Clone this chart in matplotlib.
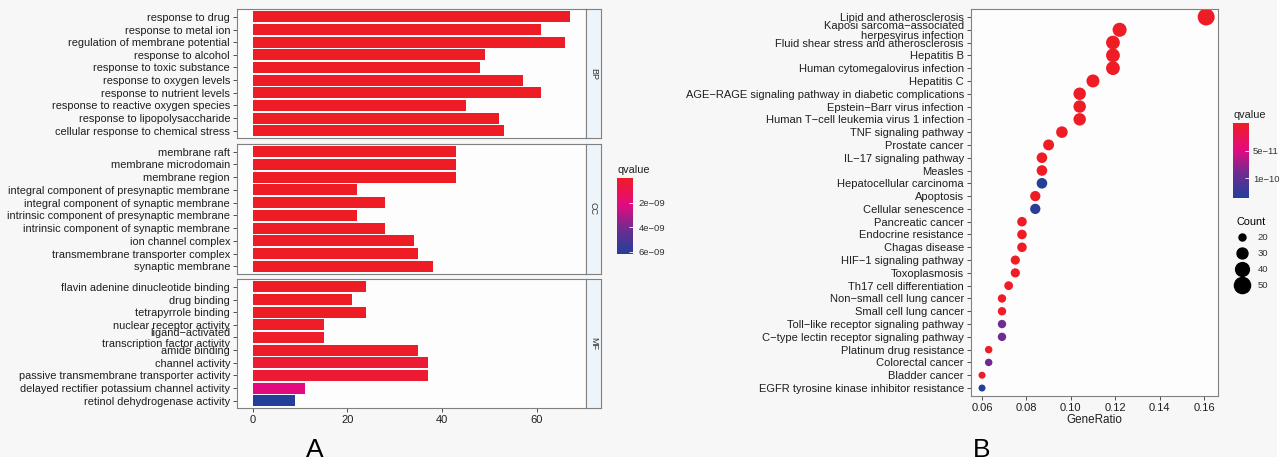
import numpy as np
import matplotlib.pyplot as plt
from matplotlib.colors import LinearSegmentedColormap, Normalize
from matplotlib.cm import ScalarMappable
from matplotlib.lines import Line2D
from matplotlib.patches import Rectangle

plt.rcParams['font.family'] = ['Liberation Sans', 'DejaVu Sans']

# --- GO enrichment (panel A) ---
bp_terms = ['response to drug', 'response to metal ion', 'regulation of membrane potential',
            'response to alcohol', 'response to toxic substance', 'response to oxygen levels',
            'response to nutrient levels', 'response to reactive oxygen species',
            'response to lipopolysaccharide', 'cellular response to chemical stress']
bp_counts = [67, 61, 66, 49, 48, 57, 61, 45, 52, 53]
bp_q = [1e-14, 1e-13, 1e-14, 1e-12, 1e-12, 1e-13, 1e-13, 1e-12, 1e-12, 1e-12]

cc_terms = ['membrane raft', 'membrane microdomain', 'membrane region',
            'integral component of presynaptic membrane', 'integral component of synaptic membrane',
            'intrinsic component of presynaptic membrane', 'intrinsic component of synaptic membrane',
            'ion channel complex', 'transmembrane transporter complex', 'synaptic membrane']
cc_counts = [43, 43, 43, 22, 28, 22, 28, 34, 35, 38]
cc_q = [1e-12, 1e-12, 1e-12, 1e-11, 1e-11, 1e-11, 1e-11, 1e-11, 1e-11, 1e-11]

mf_terms = ['flavin adenine dinucleotide binding', 'drug binding', 'tetrapyrrole binding',
            'nuclear receptor activity', 'ligand\u2212activated\ntranscription factor activity',
            'amide binding', 'channel activity', 'passive transmembrane transporter activity',
            'delayed rectifier potassium channel activity', 'retinol dehydrogenase activity']
mf_counts = [24, 21, 24, 15, 15, 35, 37, 37, 11, 9]
mf_q = [1e-11, 1e-11, 1e-11, 5e-11, 5e-11, 1e-10, 3.5e-10, 3.5e-10, 2.2e-9, 6.19e-9]

# --- KEGG enrichment (panel B) ---
kegg_terms = ['Lipid and atherosclerosis', 'Kaposi sarcoma\u2212associated\nherpesvirus infection',
              'Fluid shear stress and atherosclerosis', 'Hepatitis B',
              'Human cytomegalovirus infection', 'Hepatitis C',
              'AGE\u2212RAGE signaling pathway in diabetic complications',
              'Epstein\u2212Barr virus infection', 'Human T\u2212cell leukemia virus 1 infection',
              'TNF signaling pathway', 'Prostate cancer', 'IL\u221217 signaling pathway', 'Measles',
              'Hepatocellular carcinoma', 'Apoptosis', 'Cellular senescence', 'Pancreatic cancer',
              'Endocrine resistance', 'Chagas disease', 'HIF\u22121 signaling pathway',
              'Toxoplasmosis', 'Th17 cell differentiation', 'Non\u2212small cell lung cancer',
              'Small cell lung cancer', 'Toll\u2212like receptor signaling pathway',
              'C\u2212type lectin receptor signaling pathway', 'Platinum drug resistance',
              'Colorectal cancer', 'Bladder cancer', 'EGFR tyrosine kinase inhibitor resistance']
kegg_ratio = [0.161, 0.122, 0.119, 0.119, 0.119, 0.110, 0.104, 0.104, 0.104, 0.096,
              0.090, 0.087, 0.087, 0.087, 0.084, 0.084, 0.078, 0.078, 0.078, 0.075,
              0.075, 0.072, 0.069, 0.069, 0.069, 0.069, 0.063, 0.063, 0.060, 0.060]
kegg_count = [54, 41, 40, 40, 40, 37, 35, 35, 35, 32, 30, 29, 29, 29, 28, 28, 26, 26, 26, 25,
              25, 24, 23, 23, 23, 23, 21, 21, 20, 20]
kegg_q = [1e-20, 1e-16, 1e-15, 1e-15, 1e-15, 1e-14, 1e-14, 1e-14, 1e-14, 1e-13,
          1e-13, 1e-13, 1e-13, 1.35e-10, 1e-13, 1.3e-10, 1e-13, 1e-13, 1e-13, 1e-12,
          1e-12, 1e-12, 1e-12, 1e-12, 9e-11, 9e-11, 1e-12, 9e-11, 1e-12, 1.35e-10]

W, H = 1288, 463
cmap = LinearSegmentedColormap.from_list(
    'q', [(0, '#EE1D25'), (0.35, '#E40A80'), (0.68, '#6B2D91'), (1, '#233F99')])
txt_col = '#1f1f1f'
spine_col = '#808080'


def rect(x0, y0, x1, y1):
    # pixel box (top-left origin) -> figure fraction
    return [x0 / W, 1 - y1 / H, (x1 - x0) / W, (y1 - y0) / H]


def style_spines(ax):
    for s in ax.spines.values():
        s.set_color(spine_col)
        s.set_linewidth(0.8)


fig = plt.figure(figsize=(W / 100, H / 100), dpi=100)
fig.patch.set_facecolor('white')
fig.add_artist(Rectangle((0, 1 - 457 / H), 1277 / W, 457 / H, transform=fig.transFigure,
                         facecolor='#f7f7f7', edgecolor='none', zorder=-10))

# ---------- panel A ----------
norm_go = Normalize(0, 6.19e-9)
facets = [('BP', bp_terms, bp_counts, bp_q, 9.3, 138.3),
          ('CC', cc_terms, cc_counts, cc_q, 144, 274),
          ('MF', mf_terms, mf_counts, mf_q, 279.3, 408.3)]
for i, (name, terms, counts, qv, top, bot) in enumerate(facets):
    ax = fig.add_axes(rect(237, top, 585.7, bot))
    ax.set_facecolor('#fdfdfd')
    y = np.arange(len(terms))
    ax.barh(y, counts, height=0.88, color=cmap(norm_go(np.array(qv))))
    ax.set_xlim(-3.35, 70.35)
    ax.set_ylim(len(terms) - 0.4, -0.6)
    ax.set_yticks(y)
    ax.set_yticklabels(terms, fontsize=7.95, color=txt_col, linespacing=1.05)
    ax.set_xticks([0, 20, 40, 60])
    ax.tick_params(axis='y', length=3, width=0.6, color='#333333', pad=2)
    ax.tick_params(axis='x', length=3, width=0.6, color='#333333', labelsize=8,
                   labelcolor=txt_col, pad=1.5)
    if i < 2:
        ax.tick_params(axis='x', length=0, labelbottom=False)
    style_spines(ax)

    sx = fig.add_axes(rect(585.7, top, 601, bot))
    sx.set_facecolor('#eef5fa')
    sx.set_xticks([])
    sx.set_yticks([])
    style_spines(sx)
    sx.text(0.5, 0.5, name, rotation=-90, ha='center', va='center', fontsize=6.5,
            color='#333333', transform=sx.transAxes)

cax = fig.add_axes(rect(617, 178, 633, 254))
cb = fig.colorbar(ScalarMappable(norm_go, cmap), cax=cax)
cb.outline.set_visible(False)
cax.invert_yaxis()
cb.set_ticks([2e-9, 4e-9, 6e-9])
cb.set_ticklabels(['2e\u221209', '4e\u221209', '6e\u221209'])
cax.tick_params(length=3, width=0.6, color='white', direction='in', labelsize=6.8,
                labelcolor='#333333', pad=4)
fig.text(617 / W, 1 - 170 / H, 'qvalue', fontsize=7.8, ha='left', va='center', color=txt_col)

# ---------- panel B ----------
norm_kegg = Normalize(0, 1.35e-10)
counts = np.array(kegg_count)
dot_px = np.sqrt(7.06 * counts - 92)
ax2 = fig.add_axes(rect(970.7, 9.3, 1217.7, 395.7))
ax2.set_facecolor('#fdfdfd')
y = np.arange(len(kegg_terms))
ax2.scatter(kegg_ratio, y, s=(dot_px * 0.72) ** 2, c=kegg_q, cmap=cmap, norm=norm_kegg,
            edgecolors='none')
ax2.set_ylim(len(kegg_terms) - 0.4, -0.6)
ax2.set_xlim(0.0549, 0.1662)
ax2.set_yticks(y)
ax2.set_yticklabels(kegg_terms, fontsize=7.9, color=txt_col, linespacing=1.05)
ax2.set_xticks([0.06, 0.08, 0.10, 0.12, 0.14, 0.16])
ax2.set_xticklabels(['0.06', '0.08', '0.10', '0.12', '0.14', '0.16'])
ax2.tick_params(axis='both', length=3, width=0.6, color='#333333', labelsize=8,
                labelcolor=txt_col, pad=2)
ax2.set_xlabel('GeneRatio', fontsize=8.4, color=txt_col, labelpad=1)
style_spines(ax2)

cax2 = fig.add_axes(rect(1233, 123.3, 1249, 197.7))
cb2 = fig.colorbar(ScalarMappable(norm_kegg, cmap), cax=cax2)
cb2.outline.set_visible(False)
cax2.invert_yaxis()
cb2.set_ticks([5e-11, 1e-10])
cb2.set_ticklabels(['5e\u221211', '1e\u221210'])
cax2.tick_params(length=3, width=0.6, color='white', direction='in', labelsize=6.8,
                 labelcolor='#333333', pad=3)
fig.text(1233 / W, 1 - 115 / H, 'qvalue', fontsize=7.8, ha='left', va='center', color=txt_col)

legend_counts = [20, 30, 40, 50]
handles = [Line2D([], [], ls='none', marker='o', color='black',
                  markersize=np.sqrt(7.06 * c - 92) * 0.72) for c in legend_counts]
leg = ax2.legend(handles, [str(c) for c in legend_counts], title='Count',
                 loc='upper left', bbox_to_anchor=(1230 / W, 1 - 210 / H),
                 bbox_transform=fig.transFigure, frameon=False, fontsize=6.8,
                 title_fontsize=7.8, labelspacing=0.72, handletextpad=1.0,
                 handlelength=1.2, alignment='left', borderpad=0.2)
for t in leg.get_texts():
    t.set_color('#333333')

fig.text(315 / W, 1 - 450 / H, 'A', fontsize=19, ha='center', va='center', color='black')
fig.text(982 / W, 1 - 450 / H, 'B', fontsize=19, ha='center', va='center', color='black')

fig.savefig('out.png', dpi=100, facecolor=fig.get_facecolor())
